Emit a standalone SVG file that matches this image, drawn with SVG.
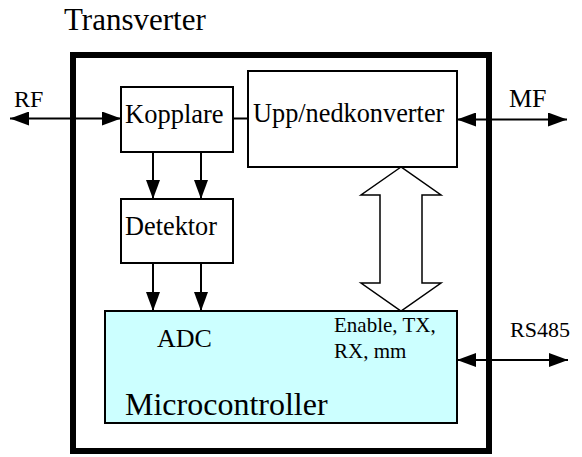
<svg xmlns="http://www.w3.org/2000/svg" width="582" height="457" viewBox="0 0 582 457">
<defs>
<style>
.box{fill:#fff;stroke:#000;stroke-width:2}
.ln{stroke:#000;stroke-width:2;fill:none}
</style>
<marker id="ah" viewBox="0 0 19 14" refX="19" refY="7" markerWidth="19" markerHeight="14" markerUnits="userSpaceOnUse" orient="auto-start-reverse">
<path d="M0,0 L19,7 L0,14 Z" fill="#000"/>
</marker>
</defs>
<rect width="582" height="457" fill="#fff"/>
<g font-family="'Liberation Serif', 'Times New Roman', Times, serif" fill="#000">
<text x="64" y="30" font-size="31">Transverter</text>
<g id="transverter">
<rect x="73" y="55" width="416" height="396" fill="none" stroke="#000" stroke-width="6"/>
</g>
<g id="kopplare">
<rect class="box" x="121" y="87" width="112" height="65"/>
<text x="125" y="123" font-size="26.5">Kopplare</text>
</g>
<g id="konverter">
<rect class="box" x="248" y="71" width="209" height="96"/>
<text x="253" y="122" font-size="26.3">Upp/nedkonverter</text>
</g>
<g id="detektor">
<rect class="box" x="121" y="199" width="112" height="64"/>
<text x="125" y="235" font-size="26.3">Detektor</text>
</g>
<g id="microcontroller">
<rect x="105" y="311" width="352" height="112" fill="#ccffff" stroke="#000" stroke-width="2"/>
<text x="157" y="347" font-size="26">ADC</text>
<text x="334" y="332" font-size="21">Enable, TX,</text>
<text x="334" y="358" font-size="21">RX, mm</text>
<text x="125" y="415" font-size="32">Microcontroller</text>
</g>
<g id="labels">
<text x="14" y="107" font-size="24">RF</text>
<text x="509" y="107" font-size="26">MF</text>
<text x="510" y="337" font-size="22">RS485</text>
</g>
</g>
<g id="connectors">
<line class="ln" x1="10" y1="118.5" x2="121" y2="118.5" marker-start="url(#ah)" marker-end="url(#ah)"/>
<line class="ln" x1="233" y1="118.5" x2="248" y2="118.5"/>
<line class="ln" x1="457" y1="119.5" x2="567" y2="119.5" marker-start="url(#ah)" marker-end="url(#ah)"/>
<line class="ln" x1="457" y1="360" x2="568" y2="360" marker-start="url(#ah)" marker-end="url(#ah)"/>
<line class="ln" x1="153" y1="152" x2="153" y2="199" marker-end="url(#ah)"/>
<line class="ln" x1="201" y1="152" x2="201" y2="199" marker-end="url(#ah)"/>
<line class="ln" x1="153" y1="263" x2="153" y2="311" marker-end="url(#ah)"/>
<line class="ln" x1="201" y1="263" x2="201" y2="311" marker-end="url(#ah)"/>
<polygon points="401,167 361,195 380,195 380,283 361,283 401,311 441,283 422,283 422,195 441,195" fill="#fff" stroke="#000" stroke-width="1.5"/>
</g>
</svg>
